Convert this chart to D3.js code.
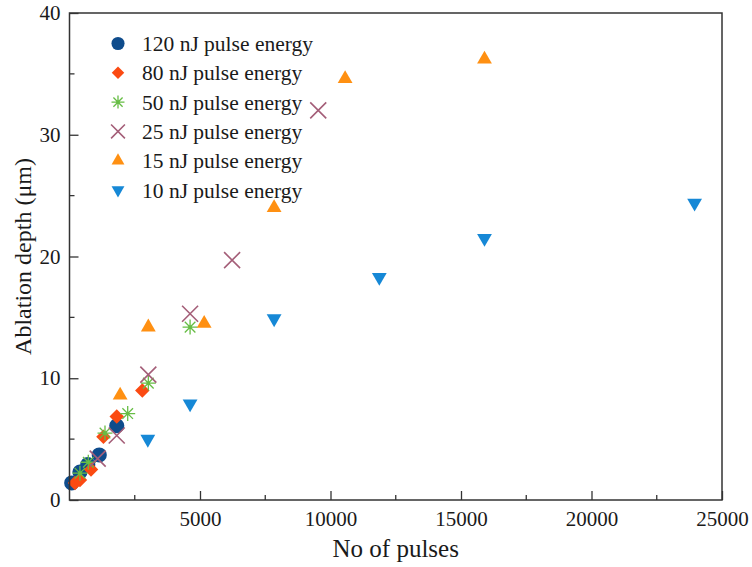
<!DOCTYPE html>
<html>
<head>
<meta charset="utf-8">
<script src="https://cdn.jsdelivr.net/npm/d3@7"></script>
<style>
  html, body { margin: 0; padding: 0; background: #fff; }
  svg { display: block; }
  text { font-family: "Liberation Serif", "Times New Roman", serif; fill: #1a1a1a; }
</style>
</head>
<body>
<svg id="chart" width="752" height="567"></svg>
<script>
// Ablation depth versus number of pulses, one series per pulse energy
const seriesNames = [
  "120 nJ pulse energy",
  "80 nJ pulse energy",
  "50 nJ pulse energy",
  "25 nJ pulse energy",
  "15 nJ pulse energy",
  "10 nJ pulse energy"
];

const pulses120 = [85, 400, 700, 1140, 1810];
const depth120  = [1.4, 2.3, 2.9, 3.7, 6.1];

const pulses80 = [210, 400, 825, 1300, 1810, 2790];
const depth80  = [1.4, 1.65, 2.5, 5.2, 6.85, 9.0];

const pulses50 = [400, 720, 1360, 2230, 3020, 4620];
const depth50  = [2.2, 3.1, 5.5, 7.1, 9.6, 14.2];

const pulses25 = [1080, 1810, 3020, 4620, 6230, 9530];
const depth25  = [3.4, 5.3, 10.3, 15.3, 19.7, 32.0];

const pulses15 = [1940, 3020, 5160, 7840, 10560, 15900];
const depth15  = [8.6, 14.2, 14.5, 24.0, 34.6, 36.2];

const pulses10 = [3000, 4620, 7840, 11870, 15900, 23950];
const depth10  = [5.0, 7.9, 14.9, 18.3, 21.5, 24.4];

const xTicks = [5000, 10000, 15000, 20000, 25000];
const yTicks = [0, 10, 20, 30, 40];

const svg = d3.select("#chart");
const margin = { left: 69.5, right: 30, top: 13, bottom: 67 };
const W = 752, H = 567;

const x = d3.scaleLinear().domain([0, 25000]).range([margin.left, W - margin.right]);
const y = d3.scaleLinear().domain([0, 40]).range([H - margin.bottom, margin.top]);

// asterisk marker: eight spokes
function starPath(r) {
  const p = d3.path();
  for (let k = 0; k < 4; k++) {
    const a = k * Math.PI / 4;
    p.moveTo(-r * Math.cos(a), -r * Math.sin(a));
    p.lineTo(r * Math.cos(a), r * Math.sin(a));
  }
  return p.toString();
}
function crossPath(r) {
  const p = d3.path();
  p.moveTo(-r, -r); p.lineTo(r, r);
  p.moveTo(-r, r); p.lineTo(r, -r);
  return p.toString();
}

const styles = [
  { color: "#0f4c8c", draw: s => d3.symbol(d3.symbolCircle, 180 * s)(), fill: true },
  { color: "#fb4a12", draw: s => d3.symbol(d3.symbolSquare, 105 * s)(), fill: true, rotate: 45 },
  { color: "#67bd45", draw: s => starPath(7.5 * Math.sqrt(s)), fill: false, width: 1.3, dot: true },
  { color: "#a45e78", draw: s => crossPath(8 * Math.sqrt(s)), fill: false, width: 1.6 },
  { color: "#ff9012", draw: s => d3.symbol(d3.symbolTriangle, 95 * s)(), fill: true },
  { color: "#1688d6", draw: s => d3.symbol(d3.symbolTriangle, 95 * s)(), fill: true, rotate: 180 }
];

const series = [
  [pulses120, depth120],
  [pulses80, depth80],
  [pulses50, depth50],
  [pulses25, depth25],
  [pulses15, depth15],
  [pulses10, depth10]
];

function marker(g, st, scale) {
  const path = g.append("path")
    .attr("d", st.draw(scale))
    .attr("transform", st.rotate ? `rotate(${st.rotate})` : null);
  if (st.fill) {
    path.attr("fill", st.color);
  } else {
    path.attr("fill", "none").attr("stroke", st.color).attr("stroke-width", st.width);
  }
  if (st.dot) g.append("circle").attr("r", 1.6).attr("fill", st.color);
}

// data points
series.forEach(([xs, ys], i) => {
  const st = styles[i];
  const g = svg.append("g");
  xs.forEach((xv, j) => {
    const m = g.append("g").attr("transform", `translate(${x(xv)},${y(ys[j])})`);
    marker(m, st, 1);
  });
});

// frame
svg.append("rect")
  .attr("x", x(0)).attr("y", y(40))
  .attr("width", x(25000) - x(0)).attr("height", y(0) - y(40))
  .attr("fill", "none").attr("stroke", "#333").attr("stroke-width", 1.5);

// bottom axis, inward ticks
const xAxis = d3.axisBottom(x).tickValues(xTicks).tickSize(-9).tickPadding(11)
  .tickFormat(d3.format("d"));
const gx = svg.append("g").attr("transform", `translate(0,${y(0)})`).call(xAxis);
gx.select(".domain").remove();
gx.selectAll(".tick line").attr("stroke", "#333").attr("stroke-width", 1.3);
gx.selectAll("text").attr("font-size", 21).attr("fill", "#1a1a1a");
const xMinor = d3.range(2500, 25000, 5000);
svg.append("g").selectAll("line").data(xMinor).join("line")
  .attr("x1", d => x(d)).attr("x2", d => x(d))
  .attr("y1", y(0)).attr("y2", y(0) - 5)
  .attr("stroke", "#333").attr("stroke-width", 1.3);

// left axis, inward ticks
const yAxis = d3.axisLeft(y).tickValues(yTicks).tickSize(-9).tickPadding(9);
const gy = svg.append("g").attr("transform", `translate(${x(0)},0)`).call(yAxis);
gy.select(".domain").remove();
gy.selectAll(".tick line").attr("stroke", "#333").attr("stroke-width", 1.3);
gy.selectAll("text").attr("font-size", 21).attr("fill", "#1a1a1a");
const yMinor = d3.range(5, 40, 10);
svg.append("g").selectAll("line").data(yMinor).join("line")
  .attr("x1", x(0)).attr("x2", x(0) + 5)
  .attr("y1", d => y(d)).attr("y2", d => y(d))
  .attr("stroke", "#333").attr("stroke-width", 1.3);

// axis titles
svg.append("text")
  .attr("x", (x(0) + x(25000)) / 2).attr("y", 557)
  .attr("text-anchor", "middle").attr("font-size", 25)
  .text("No of pulses");
svg.append("text")
  .attr("transform", `translate(31,${(y(0) + y(40)) / 2}) rotate(-90)`)
  .attr("text-anchor", "middle").attr("font-size", 24)
  .text("Ablation depth (μm)");

// legend
const legend = svg.append("g");
seriesNames.forEach((name, i) => {
  const ly = 43.5 + i * 29.3;
  const m = legend.append("g").attr("transform", `translate(118,${ly})`);
  marker(m, styles[i], 0.75);
  legend.append("text")
    .attr("x", 142).attr("y", ly).attr("dy", "0.35em")
    .attr("font-size", 21.5)
    .text(name);
});
</script>
</body>
</html>
